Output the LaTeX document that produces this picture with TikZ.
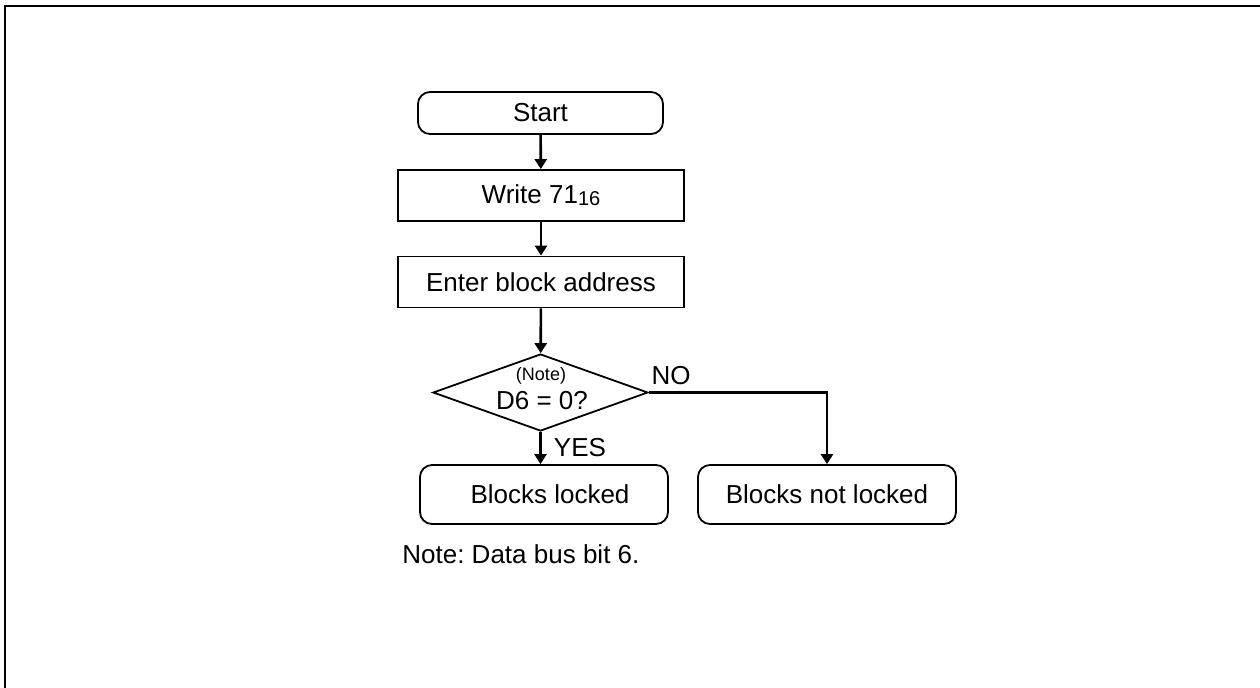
\documentclass[tikz,border=0pt]{standalone}
\usepackage{fontspec}
\setmainfont{Liberation Sans}
\usepackage{tikz}
\usetikzlibrary{arrows.meta, positioning, shapes.geometric}

\begin{document}
\begin{tikzpicture}[x=0.5pt, y=-0.5pt,
    term/.style={draw, rectangle, rounded corners=6pt, line width=0.9pt, minimum height=21pt, inner sep=0, font=\fontsize{13}{15}\selectfont},
    proc/.style={draw, rectangle, line width=0.9pt, minimum width=143pt, minimum height=25.5pt, inner sep=0, font=\fontsize{13}{15}\selectfont},
    dec/.style={draw, diamond, line width=0.9pt, minimum width=107.5pt, minimum height=38.5pt, inner sep=0},
    lbl/.style={inner sep=0, font=\fontsize{13}{15}\selectfont},
    >={Triangle[length=5pt, width=6pt]}]
\useasboundingbox (0,0) rectangle (1260,687);
\draw[line width=1.1pt] (5,6) rectangle (1266,694);
\node[term, minimum width=122.5pt] (start) at (540.5,113) {Start};
\node[proc] (write) at (541,195.5) {Write 71\raisebox{-0.15ex}{\fontsize{10}{11}\selectfont 16}};
\node[proc] (enter) at (541,282) {Enter block address};
\node[dec] (d6) at (540.5,392.5) {};
\node[lbl, font=\fontsize{9}{11}\selectfont] (note) at (541,376) {(Note)};
\node[lbl] (cond) at (542,401) {D6 = 0?};
\node[term, minimum width=124pt, minimum height=29.5pt] (locked) at (544,494.5) {\hspace{6pt}Blocks locked};
\node[term, minimum width=129pt, minimum height=29.5pt] (notlocked) at (827,494.5) {Blocks not locked};
\draw[->, line width=1.3pt] (start) -- (write);
\draw[->, line width=1.3pt] (write) -- (enter);
\draw[->, line width=1.3pt] (enter) -- (d6);
\draw[->, line width=1.3pt] (d6.south) -- (d6.south |- locked.north);
\draw[->, line width=1.3pt] (d6.east) -| (notlocked.north);
\node[lbl] (no) at (671,376) {NO};
\node[lbl] (yes) at (580,447.5) {YES};
\node[lbl, anchor=west] (foot) at (402,554) {\frenchspacing Note: Data bus bit 6.};
\end{tikzpicture}
\end{document}
